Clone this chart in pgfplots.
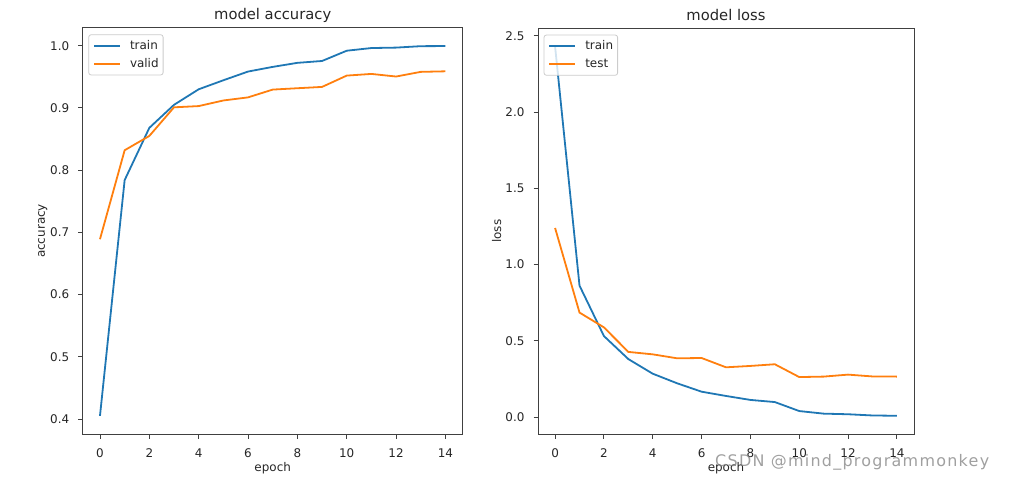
\documentclass[border=0pt]{standalone}
\usepackage{fontspec}
\setmainfont{DejaVu Sans}
\newfontfamily\wmfont[LetterSpace=8]{DejaVu Sans}
\usepackage{pgfplots}
\pgfplotsset{compat=1.18}

\definecolor{mplblue}{HTML}{1F77B4}
\definecolor{mplorange}{HTML}{FF7F0E}
\definecolor{txt}{HTML}{262626}
\definecolor{frame}{HTML}{404040}
\definecolor{legedge}{HTML}{CCCCCC}

\pgfplotsset{
  mpl/.style={
    scale only axis,
    xmin=-0.7, xmax=14.7,
    xtick={0,2,...,14},
    tick align=outside,
    xtick pos=bottom, ytick pos=left,
    major tick length=4.5bp,
    axis line style={line width=0.9bp, draw=frame},
    every tick/.style={line width=0.9bp, draw=frame},
    tick label style={font=\fontsize{12}{14}\selectfont, text=txt},
    xticklabel style={yshift=-6bp},
    yticklabel style={xshift=-5.5bp},
    label style={font=\fontsize{12}{14}\selectfont, text=txt},
    % default title style already has yshift=6pt
    title style={font=\fontsize{14.8}{17}\selectfont, text=txt,
      at={(axis description cs:0.5,1)}, anchor=center, yshift=6.7bp},
    /pgf/number format/assume math mode=true,
    yticklabel style={/pgf/number format/.cd, fixed, fixed zerofill, precision=1},
    xlabel style={at={(axis description cs:0.5,0)}, anchor=center, yshift=-33.5bp},
    legend cell align=left,
    legend style={at={(0,1)}, anchor=north west, xshift=5.6bp, yshift=-6.6bp,
      draw=legedge, line width=0.8bp, rounded corners=2.5bp, fill=white,
      fill opacity=0.8, text opacity=1, draw opacity=1,
      font=\fontsize{12}{14}\selectfont, text=txt,
      inner xsep=4.5bp, inner ysep=5bp, row sep=6.3bp,
      nodes={inner sep=0bp, text height=9.5bp, text depth=2.5bp}},
    legend image code/.code={\draw[##1] (0bp,0bp) -- (26bp,0bp); \path (35bp,0bp);},
    every axis plot/.append style={line width=1.8bp, no markers},
  }
}

\begin{document}
\begin{tikzpicture}
\useasboundingbox (0,0) rectangle (1010bp,485bp);

\begin{axis}[mpl,
  at={(82.7bp,50.7bp)}, anchor=south west,
  width=380bp, height=406.6bp,
  ymin=0.3754, ymax=1.029,
  ytick={0.4,0.5,...,1.0},
  title={model accuracy},
  xlabel={epoch},
  ylabel={accuracy},
  % rotated label: local y points left
  ylabel style={at={(axis description cs:0,0.5)}, anchor=center, yshift=40bp},
]
\addplot[mplblue] coordinates {
  (0,0.405) (1,0.784) (2,0.868) (3,0.905) (4,0.930) (5,0.9445) (6,0.9585)
  (7,0.966) (8,0.9725) (9,0.9755) (10,0.992) (11,0.9963) (12,0.997)
  (13,0.9993) (14,0.9995)
};
\addlegendentry{train}
\addplot[mplorange] coordinates {
  (0,0.689) (1,0.832) (2,0.855) (3,0.901) (4,0.903) (5,0.912) (6,0.917)
  (7,0.9295) (8,0.9317) (9,0.9338) (10,0.952) (11,0.9547) (12,0.9505)
  (13,0.958) (14,0.9589)
};
\addlegendentry{valid}
\end{axis}

\begin{axis}[mpl,
  at={(538bp,50.7bp)}, anchor=south west,
  width=376bp, height=406.3bp,
  ymin=-0.1135, ymax=2.552,
  ytick={0,0.5,...,2.5},
  title={model loss},
  xlabel={epoch},
  ylabel={loss},
  ylabel style={at={(axis description cs:0,0.5)}, anchor=center, yshift=41.3bp},
]
\addplot[mplblue] coordinates {
  (0,2.43) (1,0.862) (2,0.531) (3,0.380) (4,0.284) (5,0.221) (6,0.166)
  (7,0.138) (8,0.112) (9,0.098) (10,0.039) (11,0.022) (12,0.018)
  (13,0.010) (14,0.008)
};
\addlegendentry{train}
\addplot[mplorange] coordinates {
  (0,1.24) (1,0.685) (2,0.588) (3,0.427) (4,0.411) (5,0.385) (6,0.387)
  (7,0.326) (8,0.335) (9,0.346) (10,0.262) (11,0.265) (12,0.278)
  (13,0.266) (14,0.265)
};
\addlegendentry{test}
\end{axis}

% CSDN watermark of the source image
\node[font=\wmfont\fontsize{16}{18}\selectfont, text=gray, opacity=0.75,
  anchor=base west, inner sep=0pt]
  at (715bp,18.5bp) {CSDN @mind\_programmonkey};
\end{tikzpicture}
\end{document}
